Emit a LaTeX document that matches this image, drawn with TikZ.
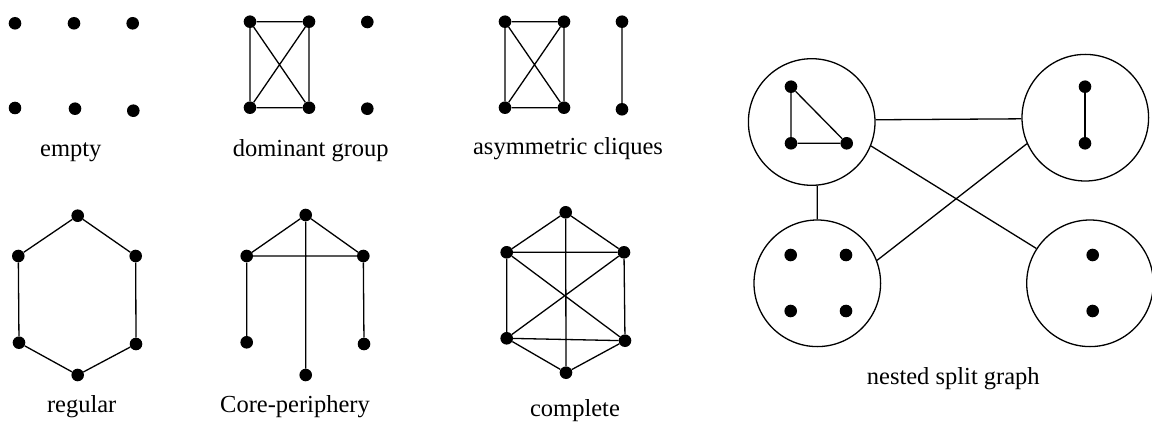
\documentclass[tikz,border=0pt]{standalone}
\usepackage{fontspec}
\setmainfont{Liberation Serif}
\begin{document}
\begin{tikzpicture}[x=1pt,y=-1pt,
  dot/.style={circle,fill=black,inner sep=0pt,minimum size=12.6pt},
  edge/.style={line width=1.3pt},
  grp/.style={circle,draw,line width=1.3pt,minimum size=126.6pt,inner sep=0pt},
  lbl/.style={anchor=base,inner sep=0pt,font=\fontsize{24.5}{28}\selectfont}]
\useasboundingbox (0,0) rectangle (1152,425);
% empty
\node[dot] (e1) at (15,23.3) {};
\node[dot] (e2) at (74,23.3) {};
\node[dot] (e3) at (132.7,23.3) {};
\node[dot] (e4) at (15,108) {};
\node[dot] (e5) at (75,108.7) {};
\node[dot] (e6) at (133.3,110.7) {};
\node[lbl] (le) at (70.8,157) {empty};
% dominant group
\node[dot] (d1) at (250,21.7) {};
\node[dot] (d2) at (309,21.7) {};
\node[dot] (d3) at (250,107.7) {};
\node[dot] (d4) at (309,107.7) {};
\node[dot] (d5) at (367.3,22) {};
\node[dot] (d6) at (367.3,108.7) {};
\draw[edge] (d1)--(d2) (d3)--(d4) (d1)--(d3) (d2)--(d4) (d1)--(d4) (d2)--(d3);
\node[lbl] (ld) at (310.8,157) {dominant group};
% asymmetric cliques
\node[dot] (a1) at (505,21.7) {};
\node[dot] (a2) at (564,21.7) {};
\node[dot] (a3) at (505,107.7) {};
\node[dot] (a4) at (564,107.7) {};
\node[dot] (a5) at (622,21.7) {};
\node[dot] (a6) at (622,109.3) {};
\draw[edge] (a1)--(a2) (a3)--(a4) (a1)--(a3) (a2)--(a4) (a1)--(a4) (a2)--(a3) (a5)--(a6);
\node[lbl] (la) at (568,155) {asymmetric cliques};
% regular
\node[dot] (r1) at (77.7,215.7) {};
\node[dot] (r2) at (18.3,256) {};
\node[dot] (r3) at (135.7,256) {};
\node[dot] (r4) at (19,342.7) {};
\node[dot] (r5) at (136,344) {};
\node[dot] (r6) at (77.7,375) {};
\draw[edge] (r1)--(r2) (r1)--(r3) (r2)--(r4) (r3)--(r5) (r4)--(r6) (r5)--(r6);
\node[lbl] (lr) at (81.7,412.5) {regular};
% core-periphery
\node[dot] (c1) at (305.7,215) {};
\node[dot] (c2) at (246.7,256) {};
\node[dot] (c3) at (363.3,256) {};
\node[dot] (c4) at (246.7,342.3) {};
\node[dot] (c5) at (364,344) {};
\node[dot] (c6) at (305.7,375) {};
\draw[edge] (c1)--(c2) (c1)--(c3) (c2)--(c3) (c1)--(c6) (c2)--(c4) (c3)--(c5);
\node[lbl] (lc) at (295,412.5) {Core-periphery};
% complete
\node[dot] (k1) at (565.7,212.3) {};
\node[dot] (k2) at (506.7,252.3) {};
\node[dot] (k3) at (624,252.3) {};
\node[dot] (k4) at (506.7,338.3) {};
\node[dot] (k5) at (625,340.7) {};
\node[dot] (k6) at (566,372.7) {};
\draw[edge] (k1)--(k2) (k1)--(k3) (k1)--(k6) (k2)--(k3) (k2)--(k4) (k3)--(k5)
  (k2)--(k5) (k3)--(k4) (k4)--(k5) (k4)--(k6) (k5)--(k6);
\node[lbl] (lk) at (575,416) {complete};
% nested split graph
\node[grp] (A) at (811.7,122) {};
\node[grp] (B) at (1085.3,117.7) {};
\node[grp] (C) at (817.3,283.3) {};
\node[grp] (D) at (1090,283.3) {};
\node[dot] (A1) at (791,86.7) {};
\node[dot] (A2) at (791,143.3) {};
\node[dot] (A3) at (846.7,143.3) {};
\draw[edge] (A1)--(A2) (A2)--(A3) (A1)--(A3);
\node[dot] (B1) at (1085,86.7) {};
\node[dot] (B2) at (1085,143.3) {};
\draw[edge] (B1)--(B2);
\node[dot] (C1) at (790.7,255) {};
\node[dot] (C2) at (846,255) {};
\node[dot] (C3) at (790.7,311) {};
\node[dot] (C4) at (846,311) {};
\node[dot] (D1) at (1092.7,255) {};
\node[dot] (D2) at (1092.7,311) {};
\draw[edge] (A.2.7)--(B.181.2);
\draw[edge] (A.275.7)--(C.90);
\draw[edge] (A.-22.4)--(D.147.8);
\draw[edge] (B.204.8)--(C.21.4);
\node[lbl] (ln) at (953.3,384) {nested split graph};
\end{tikzpicture}
\end{document}
